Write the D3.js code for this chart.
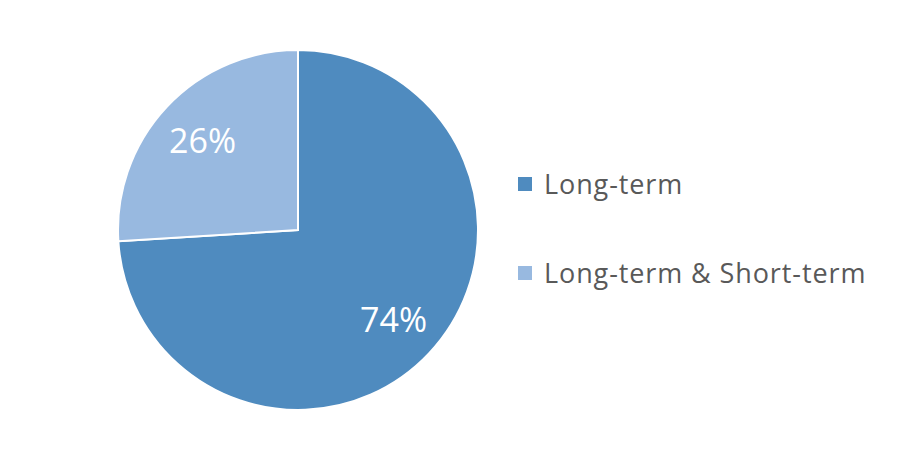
<!DOCTYPE html>
<html><head><meta charset="utf-8">
<script src="https://cdn.jsdelivr.net/npm/d3@7"></script>
<style>body{margin:0;background:#fff}svg{display:block}</style>
</head><body>
<svg id="c" width="913" height="460"></svg>
<script>
const categories = ["Long-term", "Long-term & Short-term"];
const values = [74, 26];
const labels = ["74%", "26%"];
const colors = ["#4F8BBF", "#98B9E0"];

const svg = d3.select("#c");
const cx = 298, cy = 230, r = 180;
const g = svg.append("g").attr("transform", `translate(${cx},${cy})`);
const pie = d3.pie().sort(null).value(d => d);
const arcs = pie(values);
const arc = d3.arc().innerRadius(0).outerRadius(r);
const labelArc = d3.arc().innerRadius(131).outerRadius(131);

g.selectAll("path").data(arcs).join("path")
  .attr("d", arc).attr("fill", (d, i) => colors[i])
  .attr("stroke", "#fff").attr("stroke-width", 2);

g.selectAll("text").data(arcs).join("text")
  .attr("transform", d => `translate(${labelArc.centroid(d)})`)
  .attr("text-anchor", "middle").attr("dy", "0.36em")
  .attr("font-family", "'Open Sans', sans-serif").attr("font-size", 34)
  .attr("fill", "#fff").text((d, i) => labels[i]);

const leg = svg.append("g");
const ly = d3.scalePoint().domain(categories).range([184, 273]);
categories.forEach((c, i) => {
  leg.append("rect").attr("x", 518).attr("y", ly(c) - 7).attr("width", 14).attr("height", 14).attr("fill", colors[i]);
  leg.append("text").attr("x", 544).attr("y", ly(c) + 10)
    .attr("font-family", "'Open Sans', sans-serif").attr("font-size", 27)
    .attr("letter-spacing", 0.9)
    .attr("fill", "#595959").text(c);
});
</script>
</body></html>
